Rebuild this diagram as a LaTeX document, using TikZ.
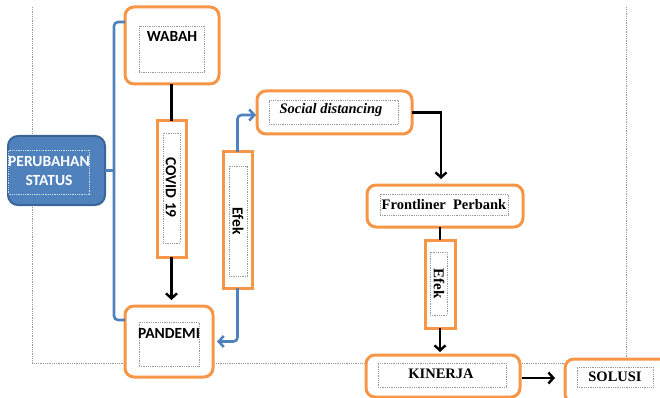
\documentclass[tikz,border=0pt]{standalone}
\usepackage{fontspec}
\setmainfont{Liberation Serif}
\newfontfamily\calfont{Carlito}
\usetikzlibrary{arrows.meta}
\definecolor{obor}{HTML}{F79646}
\definecolor{bline}{HTML}{4F81BD}
\definecolor{bdark}{HTML}{3A6596}
\tikzset{
  ob/.style={draw=obor,line width=3pt,rounded corners=9pt,fill=white,minimum width=#1},
  rb/.style={draw=obor,line width=3pt,fill=white,minimum width=#1},
  db/.style={draw=gray!80,densely dotted,line width=0.8pt,minimum width=#1},
  sf/.style={font=\calfont\bfseries\fontsize{15.5}{18}\selectfont},
  sr/.style={font=\bfseries\fontsize{14.5}{17}\selectfont},
  blueline/.style={draw=bline,line width=2.6pt,rounded corners=4pt},
  bluearrow/.style={blueline,-{Straight Barb[length=5pt,width=11pt,line width=2.6pt]}},
  blackline/.style={draw=black,line width=2.4pt},
  blackarrow/.style={blackline,-{Straight Barb[length=5pt,width=11pt,line width=2.4pt]}},
  frame/.style={draw=gray!80,densely dotted,line width=0.8pt}
}
\begin{document}
\begin{tikzpicture}[x=1pt,y=-1pt,inner sep=0pt,outer sep=0pt]
\useasboundingbox (0,0) rectangle (660,398);
% dotted frame
\draw[frame] (32,7) -- (32,363) -- (626,363) -- (626,7);

% PERUBAHAN STATUS
\node[draw=bdark,fill=bline,line width=2pt,rounded corners=10pt,minimum width=97pt,minimum height=69pt] (per) at (56.5,170.5) {};
\node[draw=white!75!bline,densely dotted,line width=0.8pt,minimum width=81pt,minimum height=44pt] (perin) at (49,172) {};
\node[sf,text=white,align=center] (pertxt) at (49,171) {PERUBAHAN\\[1pt]STATUS};

% WABAH
\node[ob=94pt,minimum height=77pt] (wabah) at (172,45.5) {};
\node[db=65pt,minimum height=46pt] (wabahin) at (171.5,49) {};
\node[sf] (wabahtxt) at (172,36) {WABAH};

% COVID 19
\node[rb=29pt,minimum height=136pt] (covid) at (171.5,189) {};
\node[db=17pt,minimum height=110pt] (covidin) at (171.5,188) {};
\node[sf,rotate=-90] (covidtxt) at (171,187.5) {COVID 19};

% Efek 1
\node[rb=29pt,minimum height=136pt] (efekA) at (237.5,220) {};
\node[db=18pt,minimum height=110pt] (efekAin) at (238,221) {};
\node[sf,rotate=-90] (efekAtxt) at (238,221) {Efek};

% PANDEMI
\node[ob=88pt,minimum height=71pt] (pandemi) at (169,341.5) {};
\node[db=60pt,minimum height=44pt] (pandemiin) at (169,344) {};
\node[sf] (pandemitxt) at (169,333) {PANDEMI};

% Social distancing
\node[ob=155pt,minimum height=43pt] (social) at (334.5,112.5) {};
\node[db=129pt,minimum height=24pt] (socialin) at (333.5,112) {};
\node[font=\bfseries\itshape\fontsize{14.5}{17}\selectfont] (socialtxt) at (331,110.5) {Social distancing};

% Frontliner Perbank
\node[ob=156pt,minimum height=42pt] (front) at (445,206) {};
\node[db=128pt,minimum height=21pt] (frontin) at (444,204.5) {};
\node[sr] (fronttxt) at (444,205) {Frontliner\ \ Perbank};

% Efek 2
\node[rb=30pt,minimum height=88pt] (efekB) at (440,284) {};
\node[db=17pt,minimum height=63pt] (efekBin) at (438.5,283.5) {};
\node[sr,rotate=-90,font=\bfseries\fontsize{15}{17}\selectfont] (efekBtxt) at (439,283.5) {Efek};

% KINERJA
\node[ob=154pt,minimum height=42pt] (kinerja) at (443,376) {};
\node[db=128pt,minimum height=24pt] (kinerjain) at (442,375) {};
\node[sr] (kinerjatxt) at (441,374) {KINERJA};

% SOLUSI
\node[ob=120pt,minimum height=44pt] (solusi) at (625,381) {};
\node[db=76pt,minimum height=20pt] (solusiin) at (615,377) {};
\node[sr] (solusitxt) at (615,377) {SOLUSI};

% connectors
\draw[blueline] ([yshift=23.5pt]wabah.west) -| ([xshift=9pt]per.east) |- ([yshift=21.5pt]pandemi.west);
\draw[blueline] (per.east) -- ([xshift=9pt]per.east);
\draw[blackline] (covid.north |- wabah.south) -- (covid.north);
\draw[blackarrow,shorten >=6pt] (covid.south) -- (covid.south |- pandemi.north);
\draw[bluearrow,shorten >=1pt] (efekA.north) |- ([yshift=-2.5pt]social.west);
\draw[bluearrow,shorten >=4pt] (efekA.south) |- (pandemi.east);
\draw[blackarrow,shorten >=6pt] (social.east) -| ([xshift=-4pt]front.north);
\draw[blackline] (efekB.north |- front.south) -- (efekB.north);
\draw[blackarrow,shorten >=3pt] (efekB.south) -- (efekB.south |- kinerja.north);
\draw[blackarrow,shorten >=10pt,shorten <=2pt] ([yshift=-2pt]kinerja.east) -- ([yshift=-2pt]kinerja.east -| solusi.west);
\end{tikzpicture}
\end{document}
